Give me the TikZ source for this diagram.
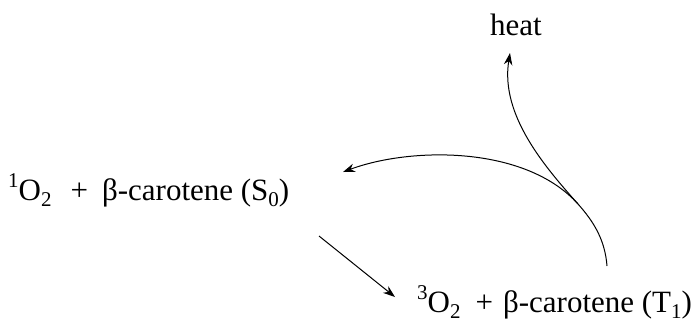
\documentclass[tikz,border=0pt]{standalone}
\usepackage{fontspec}
\setmainfont{Liberation Serif}
\usetikzlibrary{arrows.meta}
\newcommand\lsub[1]{\raisebox{-0.2em}{\fontsize{21}{24}\selectfont #1}}
\newcommand\lsup[1]{\raisebox{0.4em}{\fontsize{21}{24}\selectfont #1}}
\begin{document}
\begin{tikzpicture}[x=1pt,y=-1pt,
  lbl/.style={inner sep=0pt,anchor=base west,font=\fontsize{31}{36}\selectfont},
  conn/.style={line width=1pt,-{Stealth[length=12pt,width=8.5pt]}}]
\useasboundingbox (0,0) rectangle (695,322);
\node[lbl] (s0) at (8,200) {\lsup{1}O\lsub{2}\hspace{19pt}+\hspace{14pt}β-carotene (S\lsub{0})};
\node[lbl] (t1) at (417,312) {\lsup{3}O\lsub{2}\hspace{15pt}+\hspace{10pt}β-carotene (T\lsub{1})};
\node[lbl] (heat) at (490,35) {heat};
\coordinate (a1) at (319,236);
\coordinate (a2) at (395,297);
\coordinate (c0) at (607,266);
\coordinate (c1) at (343,172);
\coordinate (j) at (578,204);
\coordinate (h) at (510,53);
\draw[conn] (a1) -- (a2);
\draw[conn] (c0) .. controls (605,240) and (594,222) .. (j) .. controls (525,145) and (410,147) .. (c1);
\draw[conn] (j) .. controls (545,167) and (500,115) .. (h);
\end{tikzpicture}
\end{document}
